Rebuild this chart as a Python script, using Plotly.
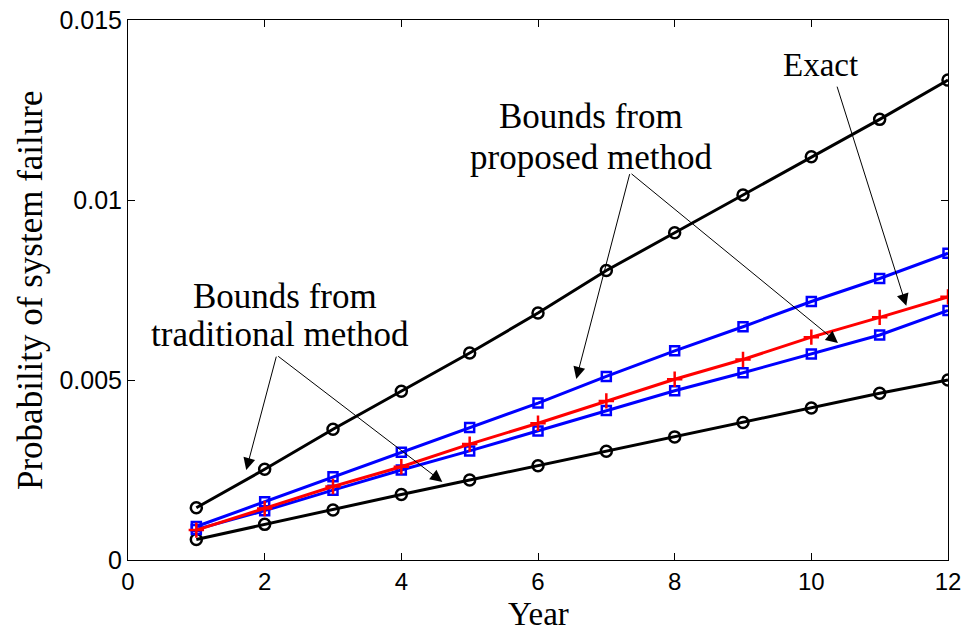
import plotly.graph_objects as go

years = list(range(1, 13))
trad_upper = [1.45, 2.52, 3.63, 4.69, 5.75, 6.86, 8.04, 9.09, 10.14, 11.20, 12.24, 13.33]
prop_upper = [0.93, 1.62, 2.31, 2.99, 3.68, 4.36, 5.10, 5.81, 6.48, 7.18, 7.82, 8.52]
exact = [0.83, 1.43, 2.04, 2.59, 3.22, 3.80, 4.42, 5.02, 5.57, 6.19, 6.74, 7.31]
prop_lower = [0.85, 1.37, 1.94, 2.50, 3.03, 3.58, 4.15, 4.70, 5.20, 5.72, 6.25, 6.93]
trad_lower = [0.57, 0.99, 1.39, 1.82, 2.22, 2.62, 3.02, 3.42, 3.82, 4.22, 4.63, 5.00]

scale = 1e-3
fig = go.Figure()

def add(vals, color, symbol, size):
    fig.add_trace(go.Scatter(
        x=years, y=[v * scale for v in vals], mode="lines+markers",
        line=dict(color=color, width=3),
        marker=dict(symbol=symbol, size=size, color=color,
                    line=dict(color=color, width=2.5)),
        showlegend=False))

add(trad_upper, "black", "circle-open", 11)
add(trad_lower, "black", "circle-open", 11)
add(prop_upper, "#0000ff", "square-open", 9)
add(prop_lower, "#0000ff", "square-open", 9)
add(exact, "#ff0000", "cross-thin-open", 11)

serif = "Liberation Serif, Times New Roman, serif"
sans = "Liberation Sans, Arial, sans-serif"

def arrow(tx, ty, hx, hy):
    fig.add_annotation(x=hx, y=hy, ax=tx, ay=ty, xref="x", yref="y",
                       axref="x", ayref="y", text="", showarrow=True,
                       arrowhead=2, arrowsize=2.4, arrowwidth=1,
                       arrowcolor="black")

arrow(10.37, 0.01319, 11.39, 0.00706)
arrow(7.347, 0.01076, 6.56, 0.00503)
arrow(7.347, 0.01076, 10.39, 0.00603)
arrow(2.176, 0.00569, 1.73, 0.00250)
arrow(2.176, 0.00569, 4.60, 0.00217)

def label(x, y, txt, size):
    fig.add_annotation(x=x, y=y, xref="x", yref="y", text=txt, showarrow=False,
                       font=dict(family=serif, size=size, color="black"),
                       align="center")

label(10.13, 0.01375, "Exact", 33)
label(6.776, 0.01231, "Bounds from", 35)
label(6.776, 0.01118, "proposed method", 35)
label(2.30, 0.00732, "Bounds from", 35)
label(2.22, 0.00626, "traditional method", 35)

# axis titles
fig.add_annotation(x=0, y=0.5, xref="paper", yref="paper", xshift=-98,
                   text="Probability of system failure", textangle=-90,
                   showarrow=False, xanchor="center", yanchor="middle",
                   font=dict(family=serif, size=35, color="black"))
fig.add_annotation(x=0.5, y=0, xref="paper", yref="paper", yshift=-73,
                   text="Year", showarrow=False, xanchor="center", yanchor="bottom",
                   borderpad=0,
                   font=dict(family=serif, size=33, color="black"))

fig.update_layout(
    width=969, height=633,
    margin=dict(l=128, r=21, t=20, b=73),
    paper_bgcolor="white", plot_bgcolor="white",
    xaxis=dict(range=[0, 12], tickvals=[0, 2, 4, 6, 8, 10, 12],
               ticks="inside", ticklen=7, tickcolor="black",
               showline=True, linecolor="black", linewidth=1, mirror="ticks",
               showgrid=False, zeroline=False, automargin=False,
               tickfont=dict(family=sans, size=24, color="black")),
    yaxis=dict(range=[0, 0.015], tickvals=[0, 0.005, 0.01, 0.015],
               ticktext=["0", "0.005", "0.01", "0.015"],
               ticks="inside", ticklen=7, tickcolor="black",
               showline=True, linecolor="black", linewidth=1, mirror="ticks",
               showgrid=False, zeroline=False, automargin=False,
               tickfont=dict(family=sans, size=25, color="black")),
)

fig.write_html("out.html", config={"displayModeBar": False},
               post_script="document.body.style.margin='0';document.body.style.overflow='hidden';")
